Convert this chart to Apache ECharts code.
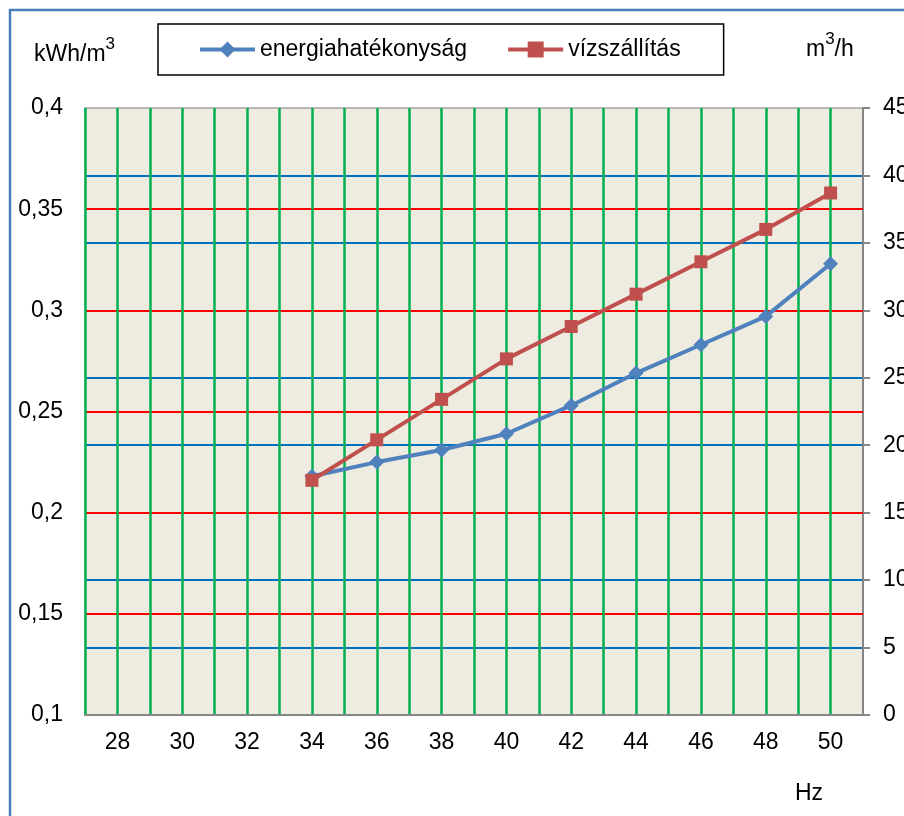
<!DOCTYPE html>
<html>
<head>
<meta charset="utf-8">
<script src="https://cdn.jsdelivr.net/npm/echarts@6/dist/echarts.min.js"></script>
<style>
  html, body { margin: 0; padding: 0; background: #fff; }
  #chart { width: 904px; height: 816px; }
</style>
</head>
<body>
<div id="chart"></div>
<script>
// Pump frequency (Hz) and measured values
const frequencies = [34, 36, 38, 40, 42, 44, 46, 48, 50];
const energyEfficiency = [0.218, 0.225, 0.231, 0.239, 0.253, 0.269, 0.283, 0.297, 0.323]; // kWh/m3
const waterDelivery = [17.4, 20.4, 23.4, 26.4, 28.8, 31.2, 33.6, 36.0, 38.7];          // m3/h
const seriesNames = ['energiahatékonyság', 'vízszállítás'];

const FONT = 'Arial, "Liberation Sans", sans-serif';
const FS = 23;

const pairs = (xs, ys) => xs.map((x, i) => [x, ys[i]]);
const fmtComma = v => String(Math.round(v * 100) / 100).replace('.', ',');

const chart = echarts.init(document.getElementById('chart'), null, { renderer: 'canvas' });

chart.setOption({
  backgroundColor: '#ffffff',
  animation: false,
  textStyle: { fontFamily: FONT },
  grid: {
    left: 85, right: 41, top: 108, bottom: 101,
    containLabel: false,
    outerBoundsMode: 'none',
    show: true,
    backgroundColor: '#EEECE1',
    borderColor: '#A9A0A5',
    borderWidth: 1.5
  },
  legend: {
    left: 158, top: 24,
    padding: [14, 43, 14, 40],
    itemGap: 39,
    itemWidth: 55,
    itemHeight: 20,
    borderColor: '#000',
    borderWidth: 1.5,
    backgroundColor: '#fff',
    lineStyle: { width: 4 },
    textStyle: { fontFamily: FONT, fontSize: FS, color: '#000' },
    data: seriesNames
  },
  xAxis: {
    type: 'value',
    min: 27, max: 51, interval: 1,
    z: 2,
    axisLine: { show: true, onZero: false, lineStyle: { color: '#868686', width: 2 } },
    axisTick: { show: false },
    axisLabel: {
      margin: 16,
      fontFamily: FONT, fontSize: FS, color: '#000',
      formatter: v => (v % 2 === 0 ? String(v) : '')
    },
    splitLine: { show: true, showMinLine: true, showMaxLine: false, lineStyle: { color: '#00B050', width: 2.5 } }
  },
  yAxis: [
    {
      type: 'value', position: 'left',
      min: 0.1, max: 0.4, interval: 0.05,
      z: 1,
      axisLine: { show: true, lineStyle: { color: '#9CCDB2', width: 2 } },
      axisTick: { show: false },
      axisLabel: { margin: 22, fontFamily: FONT, fontSize: FS, color: '#000', formatter: fmtComma },
      splitLine: { show: true, showMinLine: false, showMaxLine: false, lineStyle: { color: '#FF0000', width: 2 } }
    },
    {
      type: 'value', position: 'right',
      min: 0, max: 45, interval: 5,
      z: 0,
      axisLine: { show: true, lineStyle: { color: '#868686', width: 2 } },
      axisTick: { show: true, inside: false, length: 7, lineStyle: { color: '#868686', width: 2 } },
      axisLabel: { margin: 20, fontFamily: FONT, fontSize: FS, color: '#000' },
      splitLine: { show: true, showMinLine: false, showMaxLine: false, lineStyle: { color: '#0070C0', width: 2 } }
    }
  ],
  series: [
    {
      name: seriesNames[0],
      type: 'line',
      yAxisIndex: 0,
      z: 3,
      data: pairs(frequencies, energyEfficiency),
      symbol: 'diamond',
      symbolSize: 15,
      lineStyle: { color: '#4F81BD', width: 4 },
      itemStyle: { color: '#4F81BD' }
    },
    {
      name: seriesNames[1],
      type: 'line',
      yAxisIndex: 1,
      z: 4,
      data: pairs(frequencies, waterDelivery),
      symbol: 'rect',
      symbolSize: 13,
      lineStyle: { color: '#C0504D', width: 4 },
      itemStyle: { color: '#C0504D' }
    }
  ],
  graphic: [
    {
      type: 'rect', z: 0, silent: true,
      shape: { x: 10, y: 10, width: 1200, height: 1200 },
      style: { fill: 'none', stroke: '#4A7EBB', lineWidth: 2.5 }
    },
    {
      type: 'text', left: 34, top: 36, z: 10,
      style: {
        text: '{b|kWh/m}{s|3}',
        rich: {
          b: { fontFamily: FONT, fontSize: FS, fill: '#000', verticalAlign: 'bottom', lineHeight: 30 },
          s: { fontFamily: FONT, fontSize: 17, fill: '#000', verticalAlign: 'top', lineHeight: 30 }
        }
      }
    },
    {
      type: 'text', left: 806, top: 31, z: 10,
      style: {
        text: '{b|m}{s|3}{b|/h}',
        rich: {
          b: { fontFamily: FONT, fontSize: FS, fill: '#000', verticalAlign: 'bottom', lineHeight: 30 },
          s: { fontFamily: FONT, fontSize: 17, fill: '#000', verticalAlign: 'top', lineHeight: 30 }
        }
      }
    },
    {
      type: 'text', left: 795, top: 782, z: 10,
      style: { text: 'Hz', fontFamily: FONT, fontSize: FS, fill: '#000' }
    }
  ]
});
</script>
</body>
</html>
